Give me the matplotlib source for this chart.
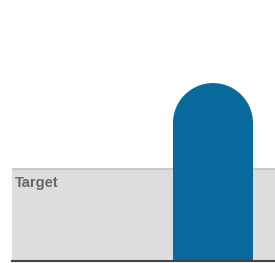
import numpy as np
import matplotlib
matplotlib.use("Agg")
import matplotlib.pyplot as plt
from matplotlib.patches import Ellipse

# data
categories = ["Actual"]
values = [68.7]
target = 35.5
target_label = "Target"

W, H, DPI = 275, 263, 100
fig = plt.figure(figsize=(W / DPI, H / DPI), dpi=DPI)
# axes spans from the left of the band to the right edge, baseline near bottom
ax = fig.add_axes([12 / W, 2 / H, 263 / W, 259 / H])
ax.set_ylim(0, 100)
ax.set_xlim(-2.5125, 0.775)
ax.axis("off")

bar_color = "#08699c"
bar_w = 1.0

# target band
ax.axhspan(0, target, facecolor="#dddddd", edgecolor="none", zorder=1)
ax.axhline(target, color="#c2c2c2", lw=1.2, zorder=2)
ax.text(0.012, target - 2.8, target_label, transform=ax.get_yaxis_transform(),
        ha="left", va="top", fontsize=10.5, fontweight="bold", color="#666666",
        family="Liberation Sans", zorder=3)

# rounded bar: radius in y data units equals half the bar width in pixels
fig.canvas.draw()
x_px_per_unit = ax.transData.transform((1, 0))[0] - ax.transData.transform((0, 0))[0]
y_px_per_unit = ax.transData.transform((0, 1))[1] - ax.transData.transform((0, 0))[1]
ry = (bar_w / 2) * x_px_per_unit / y_px_per_unit

xs = np.arange(len(categories))
for x, v in zip(xs, values):
    ax.bar(x, v - ry, width=bar_w, bottom=0, color=bar_color, zorder=4,
           linewidth=0)
    ax.add_patch(Ellipse((x, v - ry), bar_w, 2 * ry, facecolor=bar_color,
                         edgecolor="none", zorder=4))

# baseline
ax.axhline(0, color="#444444", lw=1.5, zorder=5, clip_on=False)

fig.savefig("out.png", dpi=DPI)
